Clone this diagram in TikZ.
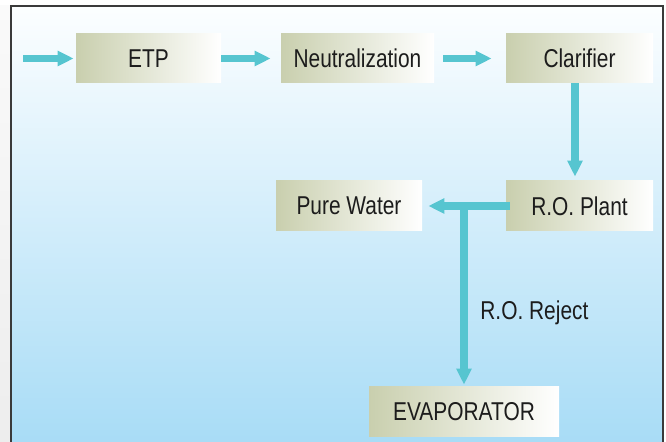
\documentclass[tikz,border=0pt]{standalone}
\usepackage{fontspec}
\setmainfont{Liberation Sans}[FakeStretch=0.81]
\usetikzlibrary{arrows.meta}

\definecolor{flowcyan}{HTML}{56C5D0}
\definecolor{boxolive}{HTML}{C9CFAE}
\definecolor{skytop}{HTML}{FCFEFF}
\definecolor{skybottom}{HTML}{A8DCF6}
\definecolor{framegray}{HTML}{3A3A3A}
\definecolor{inkgray}{HTML}{1C1C1C}

\begin{document}
\begin{tikzpicture}[x=0.5pt,y=-0.5pt]

        \tikzstyle{stagebox}=[left color=boxolive,right color=white,minimum height=24.5pt,inner sep=0pt,text=inkgray,font=\fontsize{12.9}{15}\selectfont]
        \tikzstyle{flow}=[draw=flowcyan,line width=3.6pt,-{Triangle[length=8pt,width=7.3pt]},color=flowcyan]

        \useasboundingbox (0,0) rectangle (666,442);

        %% background and frame
        \fill[white] (0,0) rectangle (666,442);
        \shade[top color=gray!4,bottom color=gray!14] (0,6) rectangle (11,442);
        \shade[top color=skytop,bottom color=skybottom] (11,6) rectangle (663,442);
        \draw[framegray,line width=1pt] (11,442) -- (11,6) -- (663,6) -- (663,442);

        %% process stages
        \node[stagebox,minimum width=72.5pt] (etp) at (148.5,58.5) {ETP};
        \node[stagebox,minimum width=76.5pt] (neut) at (357.5,58.5) {Neutralization};
        \node[stagebox,minimum width=73.5pt] (clar) at (579.5,58.5) {Clarifier};
        \node[stagebox,minimum width=73.5pt,minimum height=25pt] (ro) at (579.5,206) {R.O. Plant};
        \node[stagebox,minimum width=73pt,minimum height=25pt] (pure) at (349,206) {Pure Water};
        \node[stagebox,minimum width=95pt,minimum height=25pt] (evap) at (464,412) {EVAPORATOR};

        \node[anchor=west,inner sep=0pt,text=inkgray,font=\fontsize{12.9}{15}\selectfont] (reject) at (480,313) {R.O. Reject};

        %% flows
        \coordinate (inlet) at (23,58.5);
        \coordinate (split) at (464,206);
        \draw[flow,shorten >=1pt] (inlet) -- (etp.west);
        \draw[flow,shorten >=5pt] (etp.east) -- (neut.west);
        \draw[flow,shorten <=4.5pt,shorten >=7pt] (neut.east) -- (clar.west);
        \draw[flow,shorten >=2pt] ([xshift=-2.25pt]clar.south) -- ([xshift=-2.25pt]ro.north);
        \draw[flow,shorten <=-2pt,shorten >=3pt] (ro.west) -- (pure.east);
        \draw[flow,shorten >=1pt] (split) -- (evap.north);

\end{tikzpicture}
\end{document}
